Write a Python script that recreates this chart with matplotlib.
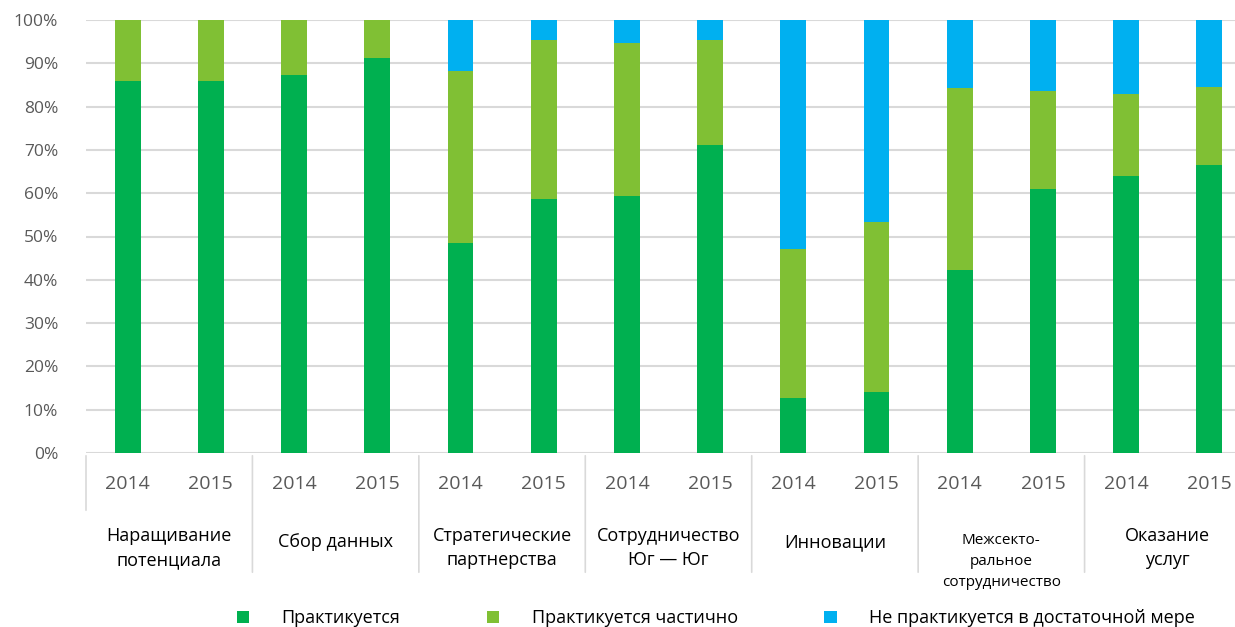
# -*- coding: utf-8 -*-

"""Stacked percentage bars: practices by area, 2014 vs 2015."""

import matplotlib.pyplot as plt
import numpy as np

plt.rcParams['font.family'] = ['Open Sans', 'DejaVu Sans']

# category groups (outer axis level) and years (inner level)
categories = ['Наращивание\nпотенциала', 'Сбор данных', 'Стратегические\nпартнерства',
              'Сотрудничество\nЮг — Юг', 'Инновации', 'Межсекто-\nральное\nсотрудничество',
              'Оказание\nуслуг']
years = ['2014', '2015']

# shares in %, ordered 2014, 2015 for each category
practiced = [86.0, 86.0, 87.4, 91.3, 48.5, 58.7, 59.4, 71.1, 12.6, 14.2, 42.3, 61.0, 64.0, 66.4]
partly = [14.0, 14.0, 12.6, 8.7, 39.8, 36.6, 35.2, 24.2, 34.5, 39.1, 42.1, 22.7, 18.8, 18.1]
not_enough = [0.0, 0.0, 0.0, 0.0, 11.7, 4.7, 5.4, 4.7, 52.9, 46.7, 15.6, 16.3, 17.2, 15.5]

series_names = ['Практикуется', 'Практикуется частично', 'Не практикуется в достаточной мере']
colors = ['#00B050', '#80C034', '#00B0F0']

W, H = 1235, 627
fig = plt.figure(figsize=(W / 100, H / 100), dpi=100)
# plot area runs a bit past the right edge of the picture, as in the source
ax = fig.add_axes([86 / W, 1 - 453 / H, (1251 - 86) / W, (453 - 20) / H])

x = np.arange(len(practiced))
bottom = np.zeros(len(x))
handles = []
for vals, col in zip([practiced, partly, not_enough], colors):
    bars = ax.bar(x, vals, width=0.31, bottom=bottom, color=col,
                  linewidth=0, zorder=3)
    handles.append(bars)
    bottom += np.array(vals)

ax.set_xlim(-0.5, len(x) - 0.5)
ax.set_ylim(0, 100)
ax.set_yticks(np.arange(0, 101, 10))
ax.set_yticklabels(['%d%%' % v for v in range(0, 101, 10)])
ax.yaxis.grid(True, color='#D9D9D9', linewidth=1.5, zorder=0)
ax.tick_params(axis='y', length=0, pad=20, labelsize=12.5, labelcolor='#595959')
for s in ['top', 'right', 'left', 'bottom']:
    ax.spines[s].set_visible(False)

# inner level: years
ax.set_xticks(x)
ax.set_xticklabels(years * len(categories))
ax.tick_params(axis='x', length=0, pad=16, labelsize=14, labelcolor='#595959')

# separators between category groups
for g in range(len(categories)):
    xb = 2 * g - 0.5
    y_end = -60 if g == 0 else -122
    ax.annotate('', xy=(xb, 0), xycoords=('data', 'axes fraction'),
                xytext=(0, y_end), textcoords='offset pixels',
                arrowprops=dict(arrowstyle='-', color='#D9D9D9', lw=1.2))

# outer level: category names
for g, name in enumerate(categories):
    nlines = name.count('\n') + 1
    small = nlines > 2
    ax.annotate(name, xy=(2 * g + 0.5, 0), xycoords=('data', 'axes fraction'),
                xytext=(0, -74 if nlines == 2 else -80), textcoords='offset pixels',
                ha='center', va='top', fontsize=11 if small else 13,
                linespacing=1.55 if small else 1.45, color='black')

fig.legend(handles, series_names, loc='center left',
           bbox_to_anchor=(237 / W, 1 - 618 / H), ncol=3, frameon=False,
           fontsize=13, handlelength=0.67, handleheight=0.67,
           handletextpad=1.8, columnspacing=4.8, borderpad=0, borderaxespad=0)

fig.savefig('out.png', dpi=100)
